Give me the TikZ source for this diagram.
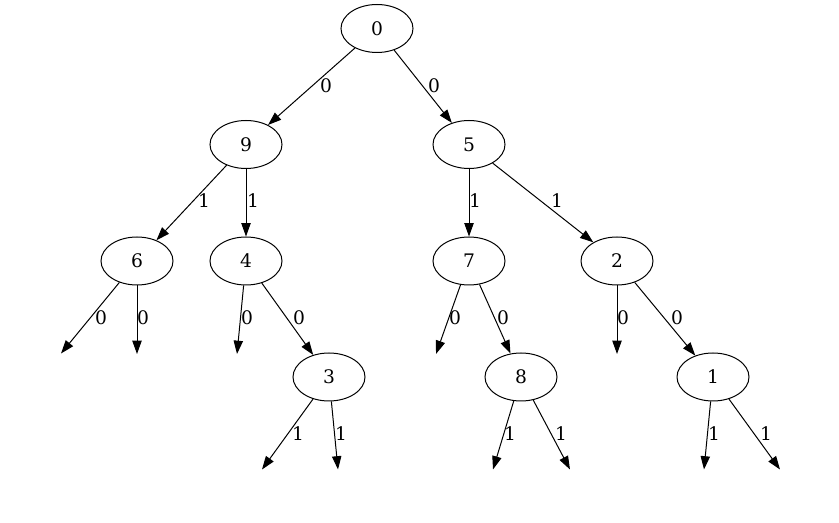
\documentclass[tikz,border=0pt]{standalone}
\usepackage{fontspec}
\setmainfont{DejaVu Serif}
\usetikzlibrary{arrows.meta,shapes.geometric}
\begin{document}
\begin{tikzpicture}[x=0.75pt,y=-0.75pt,
  st/.style={ellipse,draw,line width=0.75pt,minimum width=54pt,minimum height=36pt,inner sep=0pt,font=\fontsize{14}{14}\selectfont},
  ed/.style={draw,line width=0.75pt,-{Triangle[length=10pt,width=7pt]}},
  lb/.style={inner sep=0pt,font=\fontsize{14}{14}\selectfont}]
\useasboundingbox (0,0) rectangle (839,523);
\node[st] (n0) at (377,28.5) {0};
\node[st] (n9) at (246,144.5) {9};
\node[st] (n5) at (469,144.5) {5};
\node[st] (n6) at (137,261) {6};
\node[st] (n4) at (246,261) {4};
\node[st] (n7) at (469,261) {7};
\node[st] (n2) at (617,261) {2};
\node[st] (n3) at (329,377) {3};
\node[st] (n8) at (521,377) {8};
\node[st] (n1) at (713,377) {1};
\coordinate (e6a) at (61,353.5);
\coordinate (e6b) at (137,354);
\coordinate (e4a) at (237,354);
\coordinate (e7a) at (436,354);
\coordinate (e2a) at (617,354);
\coordinate (e3a) at (262,469.5);
\coordinate (e3b) at (338,469.5);
\coordinate (e8a) at (493,469.5);
\coordinate (e8b) at (570,469.5);
\coordinate (e1a) at (704,469.5);
\coordinate (e1b) at (780,469.5);
\draw[ed] (n0) -- (n9);
\draw[ed] (n0) -- (n5);
\draw[ed] (n9) -- (n6);
\draw[ed] (n9) -- (n4);
\draw[ed] (n5) -- (n7);
\draw[ed] (n5) -- (n2);
\draw[ed] (n6) -- (e6a);
\draw[ed] (n6) -- (e6b);
\draw[ed] (n4) -- (e4a);
\draw[ed] (n4) -- (n3);
\draw[ed] (n7) -- (e7a);
\draw[ed] (n7) -- (n8);
\draw[ed] (n2) -- (e2a);
\draw[ed] (n2) -- (n1);
\draw[ed] (n3) -- (e3a);
\draw[ed] (n3) -- (e3b);
\draw[ed] (n8) -- (e8a);
\draw[ed] (n8) -- (e8b);
\draw[ed] (n1) -- (e1a);
\draw[ed] (n1) -- (e1b);
\node[lb] (l1) at (326,86) {0};
\node[lb] (l2) at (434,86) {0};
\node[lb] (l3) at (204,201) {1};
\node[lb] (l4) at (253,201) {1};
\node[lb] (l5) at (475,201) {1};
\node[lb] (l6) at (557,201) {1};
\node[lb] (l7) at (101,318) {0};
\node[lb] (l8) at (143,318) {0};
\node[lb] (l9) at (247,318) {0};
\node[lb] (l10) at (299,318) {0};
\node[lb] (l11) at (455,318) {0};
\node[lb] (l12) at (503,318) {0};
\node[lb] (l13) at (623,318) {0};
\node[lb] (l14) at (677,318) {0};
\node[lb] (l15) at (298,434) {1};
\node[lb] (l16) at (341,434) {1};
\node[lb] (l17) at (510,434) {1};
\node[lb] (l18) at (561,434) {1};
\node[lb] (l19) at (714,434) {1};
\node[lb] (l20) at (766,434) {1};
\end{tikzpicture}
\end{document}
